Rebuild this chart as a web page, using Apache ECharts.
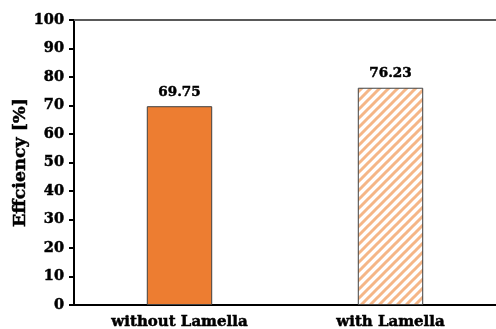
<!DOCTYPE html>
<html>
<head>
<meta charset="utf-8">
<script src="https://cdn.jsdelivr.net/npm/echarts@6/dist/echarts.min.js"></script>
<style>
  html, body { margin: 0; padding: 0; background: #fff; }
  #chart { width: 496px; height: 329px; }
</style>
</head>
<body>
<div id="chart"></div>
<script>
const categories = ['without Lamella', 'with Lamella'];
const efficiency = [69.75, 76.23];
const yTicks = [0, 10, 20, 30, 40, 50, 60, 70, 80, 90, 100];

// Diagonal hatch tile for the "with Lamella" bar
function hatchPattern() {
  const s = 9;
  const c = document.createElement('canvas');
  c.width = s; c.height = s;
  const ctx = c.getContext('2d');
  ctx.fillStyle = '#ffffff';
  ctx.fillRect(0, 0, s, s);
  ctx.strokeStyle = '#f5b687';
  ctx.lineWidth = 3;
  ctx.beginPath();
  ctx.moveTo(-s / 2, s / 2); ctx.lineTo(s / 2, -s / 2);
  ctx.moveTo(0, s); ctx.lineTo(s, 0);
  ctx.moveTo(s / 2, s * 1.5); ctx.lineTo(s * 1.5, s / 2);
  ctx.stroke();
  return c;
}

const font = '"DejaVu Serif", "Liberation Serif", serif';
// Slight outline in text colour to give the heavy bold look
const heavy = { color: '#000', fontFamily: font, fontWeight: 'bold', textBorderColor: '#000', textBorderWidth: 0.5 };
const chart = echarts.init(document.getElementById('chart'), null, { renderer: 'canvas' });

chart.setOption({
  animation: false,
  grid: { left: 74, right: 0, top: 20, bottom: 24, containLabel: false, outerBoundsMode: 'none' },
  xAxis: [{
    type: 'category',
    data: categories,
    axisLine: { lineStyle: { color: '#000', width: 2 } },
    axisTick: { show: false },
    axisLabel: Object.assign({ fontSize: 15, margin: 10 }, heavy)
  }, {
    type: 'category',
    position: 'top',
    data: categories,
    axisLine: { lineStyle: { color: '#595959', width: 2 } },
    axisTick: { show: false },
    axisLabel: { show: false }
  }],
  yAxis: {
    type: 'value',
    min: yTicks[0],
    max: yTicks[yTicks.length - 1],
    interval: yTicks[1] - yTicks[0],
    name: 'Effciency [%]',
    nameLocation: 'middle',
    nameGap: 45,
    nameMoveOverlap: false,
    nameTextStyle: Object.assign({ fontSize: 17.5 }, heavy),
    axisLine: { show: true, lineStyle: { color: '#000', width: 2 } },
    axisTick: { show: true, inside: false, length: 5, lineStyle: { color: '#000', width: 2 } },
    splitLine: { show: false },
    axisLabel: Object.assign({ fontSize: 14.5, margin: 10 }, heavy)
  },
  series: [{
    type: 'bar',
    barWidth: '31%',
    data: [
      { value: efficiency[0], itemStyle: { color: '#ed7d31', borderColor: '#404040', borderWidth: 1 } },
      { value: efficiency[1], itemStyle: { color: { image: hatchPattern(), repeat: 'repeat' }, borderColor: '#404040', borderWidth: 1 } }
    ],
    label: Object.assign({
      show: true,
      position: 'top',
      distance: 7,
      fontSize: 13.5,
      formatter: p => p.value.toFixed(2)
    }, heavy)
  }]
});
</script>
</body>
</html>
